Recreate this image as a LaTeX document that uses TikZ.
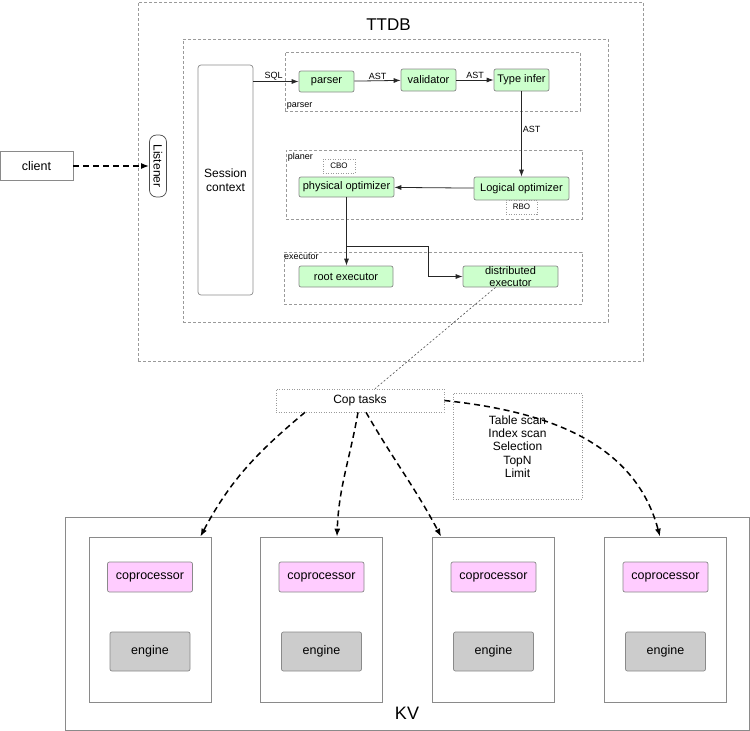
\documentclass[tikz,border=0pt]{standalone}
\usepackage{fontspec}
\setmainfont{Liberation Sans}
\usetikzlibrary{arrows.meta,calc}
\definecolor{boxgray}{HTML}{8A8A8A}
\definecolor{grpgray}{HTML}{9A9A9A}
\definecolor{gfill}{HTML}{CCFFCC}
\definecolor{pfill}{HTML}{FFCCFF}
\definecolor{efill}{HTML}{CCCCCC}
\tikzset{
  bx/.style={minimum width=#1, inner sep=0pt, align=center, font=\fontsize{11}{13}\selectfont},
  grp/.style={draw=grpgray, dash pattern=on 3pt off 2pt, line width=0.6pt, inner sep=0pt},
  dotbox/.style={draw=grpgray, dash pattern=on 1pt off 1.5pt, line width=0.6pt, inner sep=0pt, align=center},
  gbox/.style={draw=boxgray, fill=gfill, rounded corners=2pt, line width=0.7pt},
  pbox/.style={draw=boxgray, fill=pfill, rounded corners=2pt, line width=0.7pt},
  ebox/.style={draw=boxgray, fill=efill, rounded corners=2pt, line width=0.7pt},
  plain/.style={draw=boxgray, line width=0.7pt},
  arr/.style={-{Latex[length=7pt,width=5pt]}, line width=0.8pt, draw=black!85},
  dasharr/.style={-{Latex[length=8pt,width=6pt]}, line width=1.5pt, dash pattern=on 6pt off 4pt},
  lbl/.style={font=\fontsize{9}{10}\selectfont, inner sep=1pt},
}
\begin{document}
\begin{tikzpicture}[x=1pt,y=1pt]
\useasboundingbox (0,0) rectangle (750,-731);
% TTDB
\node[grp, minimum width=505, minimum height=359] (ttdb) at (390.5,-181.5) {};
\node[font=\fontsize{17}{19}\selectfont] (ttdbl) at (388.5,-24.5) {TTDB};
\node[grp, minimum width=425, minimum height=283] (inner) at (395.5,-180.5) {};
\node[plain, rounded corners=3pt, minimum width=55, minimum height=230, align=center, font=\fontsize{12}{14}\selectfont] (session) at (225.5,-180) {Session\\context};
\node[draw=black!70, fill=white, line width=0.7pt, rounded corners=7pt, rotate=-90, minimum width=62, minimum height=17, inner sep=0pt, font=\fontsize{12}{14}\selectfont] (listener) at (158,-166) {Listener};
\node[plain, minimum width=73, minimum height=29, font=\fontsize{12.5}{14}\selectfont] (client) at (36.5,-166) {client};
% parser group
\node[grp, minimum width=295, minimum height=59] (pgrp) at (432.5,-81.5) {};
\node[lbl, anchor=south west] (pgrpl) at ([xshift=1pt,yshift=1pt]pgrp.south west) {parser};
\node[gbox, bx=55, minimum height=21] (parser) at (326.5,-81.5) {parser};
\node[gbox, bx=55, minimum height=22] (validator) at (428.5,-80) {validator};
\node[gbox, bx=55, minimum height=22] (typeinfer) at (521.5,-80) {Type infer};
% planer group
\node[grp, minimum width=296, minimum height=69] (plgrp) at (434,-184.5) {};
\node[lbl, anchor=north west] (plgrpl) at ([xshift=1pt,yshift=-2pt]plgrp.north west) {planer};
\node[dotbox, minimum width=32, minimum height=14, font=\fontsize{8}{9}\selectfont] (cbo) at (339,-166) {CBO};
\node[gbox, bx=95, minimum height=20] (phys) at (346.5,-187) {physical optimizer};
\node[gbox, bx=95, minimum height=23] (logical) at (521.5,-188.5) {Logical optimizer};
\node[dotbox, minimum width=31, minimum height=14, font=\fontsize{8}{9}\selectfont] (rbo) at (521.5,-207) {RBO};
% executor group
\node[grp, minimum width=298, minimum height=52] (egrp) at (433,-278) {};
\node[lbl, anchor=west] (egrpl) at (283,-257) {executor};
\node[gbox, bx=94, minimum height=21] (root) at (346,-276.5) {root executor};
\node[gbox, bx=95, minimum height=21, font=\fontsize{11}{12}\selectfont] (dist) at (510.5,-276.5) {distributed\\executor};
% cop tasks
\node[dotbox, minimum width=168, minimum height=23, font=\fontsize{12}{14}\selectfont] (cop) at (360,-400.5) {Cop tasks};
\node[dotbox, minimum width=129, minimum height=106] (ops) at (517.5,-446) {};
\node[align=center, font=\fontsize{12}{13.2}\selectfont] (opsl) at (517.5,-446.5) {Table scan\\Index scan\\Selection\\TopN\\Limit};
% KV
\node[plain, minimum width=684, minimum height=213] (kv) at (407,-623.5) {};
\node[font=\fontsize{18}{20}\selectfont] (kvl) at (407,-713) {KV};
\foreach \i/\x in {1/150,2/321.5,3/493.5,4/665.5}{
  \node[plain, fill=white, minimum width=122, minimum height=165] (s\i) at (\x,-619.5) {};
  \node[pbox, bx=85, minimum height=30, font=\fontsize{12.5}{14}\selectfont] (cp\i) at (\x,-577) {coprocessor};
  \node[ebox, bx=80, minimum height=39, font=\fontsize{12.5}{14}\selectfont] (en\i) at (\x,-651.5) {engine};
}
% connectors
\draw[dasharr] (client) -- (listener);
\draw[arr] (session.east |- parser) -- node[lbl, above, pos=0.45] {SQL} (parser);
\draw[arr] (parser) -- node[lbl, above] {AST} (validator);
\draw[arr] (validator) -- node[lbl, above] {AST} (typeinfer);
\draw[arr] (typeinfer.south) -- node[lbl, right, pos=0.45] {AST} (typeinfer.south |- logical.north);
\draw[arr] (logical) -- (phys);
\draw[arr] (phys.south) -- (phys.south |- root.north);
\coordinate (br) at (phys.south |- 0,-246);
\draw[arr] (br) -- ++(81.5,0) |- (dist.west);
\draw[black!70, dash pattern=on 2pt off 2pt, line width=0.6pt] ([xshift=-15pt]dist.south) -- ([xshift=15pt]cop.north);
\draw[dasharr] ([xshift=-55pt]cop.south) to[out=-140, in=62] ([xshift=-11pt]s1.north east);
\draw[dasharr] ([xshift=-2pt]cop.south) to[out=-100, in=88] ([xshift=15.5pt]s2.north);
\draw[dasharr] ([xshift=6pt]cop.south) to[out=-60, in=118] ([xshift=9pt]s3.north west);
\draw[dasharr] (cop.east) to[out=-6, in=105] ([xshift=-5.5pt]s4.north);
\end{tikzpicture}
\end{document}
